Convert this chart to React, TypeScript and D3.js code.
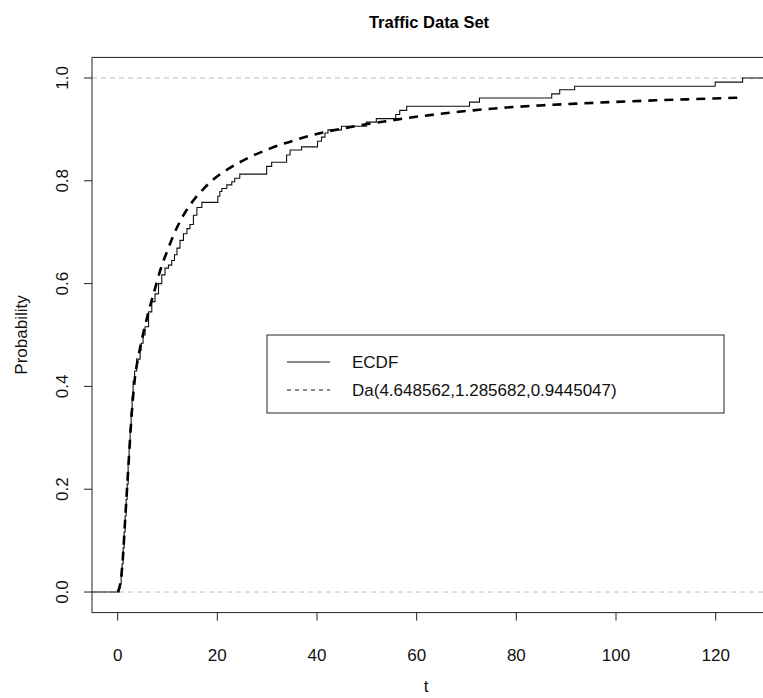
import React from "react";
import * as d3 from "d3";

// ECDF jump points (t, cumulative probability after the jump)
const ecdfT = [0.3, 0.5, 0.7, 0.9, 1.1, 1.3, 1.5, 1.7, 1.9, 2.1, 2.3, 2.5, 2.7, 2.9, 3.1, 3.4, 3.8, 4.5, 4.7, 5.1, 5.5, 6.2, 6.85, 7.5, 8.2, 8.85, 9.5, 10.2, 10.85, 11.4, 11.9, 12.5, 13.2, 13.9, 14.5, 15.2, 15.9, 16.9, 20.1, 20.5, 20.9, 21.9, 22.9, 23.5, 24.5, 29.9, 30.9, 33.9, 34.6, 36.9, 40.1, 40.9, 41.6, 42.2, 44.9, 49.9, 51.9, 55.8, 56.6, 58.0, 70.6, 72.6, 87.1, 88.7, 91.7, 119.9, 125.4];
const ecdfP = [0.008, 0.016, 0.031, 0.055, 0.086, 0.117, 0.148, 0.18, 0.21, 0.25, 0.28, 0.32, 0.35, 0.38, 0.41, 0.43, 0.453, 0.47, 0.484, 0.5, 0.516, 0.545, 0.565, 0.58, 0.6, 0.617, 0.63, 0.636, 0.645, 0.656, 0.669, 0.684, 0.697, 0.707, 0.715, 0.733, 0.748, 0.758, 0.77, 0.779, 0.785, 0.792, 0.798, 0.805, 0.813, 0.828, 0.836, 0.85, 0.86, 0.866, 0.877, 0.885, 0.893, 0.899, 0.906, 0.914, 0.921, 0.929, 0.937, 0.945, 0.953, 0.961, 0.969, 0.977, 0.984, 0.992, 1.0];

// Fitted Dagum CDF
const daT = [0, 0.5, 1.0, 1.5, 2.0, 2.5, 3.0, 3.5, 4.2, 5.3, 6.2, 7.2, 8.85, 9.9, 11.2, 12.9, 14.9, 16.9, 19.5, 22.0, 25.9, 30.9, 35.9, 41.2, 45.3, 49.9, 55.3, 58, 64.6, 71.3, 78, 84.7, 92, 100, 108, 116, 124, 125.2];
const daP = [0, 0.015, 0.06, 0.14, 0.22, 0.30, 0.37, 0.42, 0.46, 0.51, 0.545, 0.58, 0.635, 0.662, 0.694, 0.728, 0.758, 0.781, 0.805, 0.822, 0.843, 0.864, 0.88, 0.894, 0.902, 0.91, 0.918, 0.922, 0.93, 0.937, 0.9425, 0.9465, 0.95, 0.9535, 0.9565, 0.959, 0.9615, 0.962];

const xTicks = [0, 20, 40, 60, 80, 100, 120];
const yTicks = [0, 0.2, 0.4, 0.6, 0.8, 1.0];
const refLines = [0, 1];

const title = "Traffic Data Set";
const xLabel = "t";
const yLabel = "Probability";
const legendLabels = ["ECDF", "Da(4.648562,1.285682,0.9445047)"];

export default function App() {
  const W = 763, H = 698;
  const left = 92, right = 770, top = 57.4, bottom = 612.6;
  const xMin = -5.15, xMax = 130.9;
  const x = d3.scaleLinear().domain([xMin, xMax]).range([left, right]);
  const y = d3.scaleLinear().domain([-0.04, 1.04]).range([bottom, top]);

  const ecdfPts: [number, number][] = [[xMin, 0], [0, 0]];
  ecdfT.forEach((t, i) => ecdfPts.push([t, ecdfP[i]]));
  ecdfPts.push([xMax, 1]);
  const stepLine = d3.line<[number, number]>().x(d => x(d[0])).y(d => y(d[1])).curve(d3.curveStepAfter);

  const daPts: [number, number][] = daT.map((t, i) => [t, daP[i]]);
  const smoothLine = d3.line<[number, number]>().x(d => x(d[0])).y(d => y(d[1])).curve(d3.curveMonotoneX);

  const font = "'Liberation Sans', Arial, Helvetica, sans-serif";
  const fs = 17;

  return (
    <svg width={W} height={H} style={{ position: "absolute", left: 0, top: 0, background: "#fff" }} fontFamily={font}>
      <defs>
        <clipPath id="plotclip">
          <rect x={left} y={top} width={right - left} height={bottom - top} />
        </clipPath>
      </defs>
      <rect x={0} y={0} width={W} height={H} fill="#fff" />
      <text x={(left + right) / 2 - 2} y={28} textAnchor="middle" fontWeight="bold" fontSize={16.5}>{title}</text>

      <g clipPath="url(#plotclip)">
        {refLines.map(v => (
          <line key={v} x1={left} x2={right} y1={y(v)} y2={y(v)} stroke="#bdbdbd" strokeWidth={1} strokeDasharray="5,4" />
        ))}
        <path d={stepLine(ecdfPts) || ""} fill="none" stroke="#111" strokeWidth={1.1} />
        <path d={smoothLine(daPts) || ""} fill="none" stroke="#000" strokeWidth={2.6} strokeDasharray="9,7" />
      </g>

      <rect x={left} y={top} width={right - left} height={bottom - top} fill="none" stroke="#222" strokeWidth={1} />

      {xTicks.map(t => (
        <g key={t}>
          <line x1={x(t)} x2={x(t)} y1={bottom} y2={bottom + 8} stroke="#222" />
          <text x={x(t)} y={661} textAnchor="middle" fontSize={fs} fill="#111">{t}</text>
        </g>
      ))}
      <text x={(left + right) / 2 - 5} y={692} textAnchor="middle" fontSize={fs} fill="#111">{xLabel}</text>

      {yTicks.map(v => (
        <g key={v}>
          <line x1={left - 8} x2={left} y1={y(v)} y2={y(v)} stroke="#222" />
          <text transform={`translate(68,${y(v)}) rotate(-90)`} textAnchor="middle" fontSize={fs} fill="#111">{v.toFixed(1)}</text>
        </g>
      ))}
      <text transform={`translate(27,${(top + bottom) / 2}) rotate(-90)`} textAnchor="middle" fontSize={fs} fill="#111">{yLabel}</text>

      <g>
        <rect x={267} y={335} width={457} height={78} fill="#fff" stroke="#222" strokeWidth={1} />
        <line x1={287} x2={330} y1={362} y2={362} stroke="#111" strokeWidth={1} />
        <line x1={287} x2={330} y1={390} y2={390} stroke="#111" strokeWidth={1} strokeDasharray="4,4" />
        <text x={352} y={368} fontSize={fs} fill="#111">{legendLabels[0]}</text>
        <text x={352} y={396} fontSize={fs} fill="#111">{legendLabels[1]}</text>
      </g>
    </svg>
  );
}
